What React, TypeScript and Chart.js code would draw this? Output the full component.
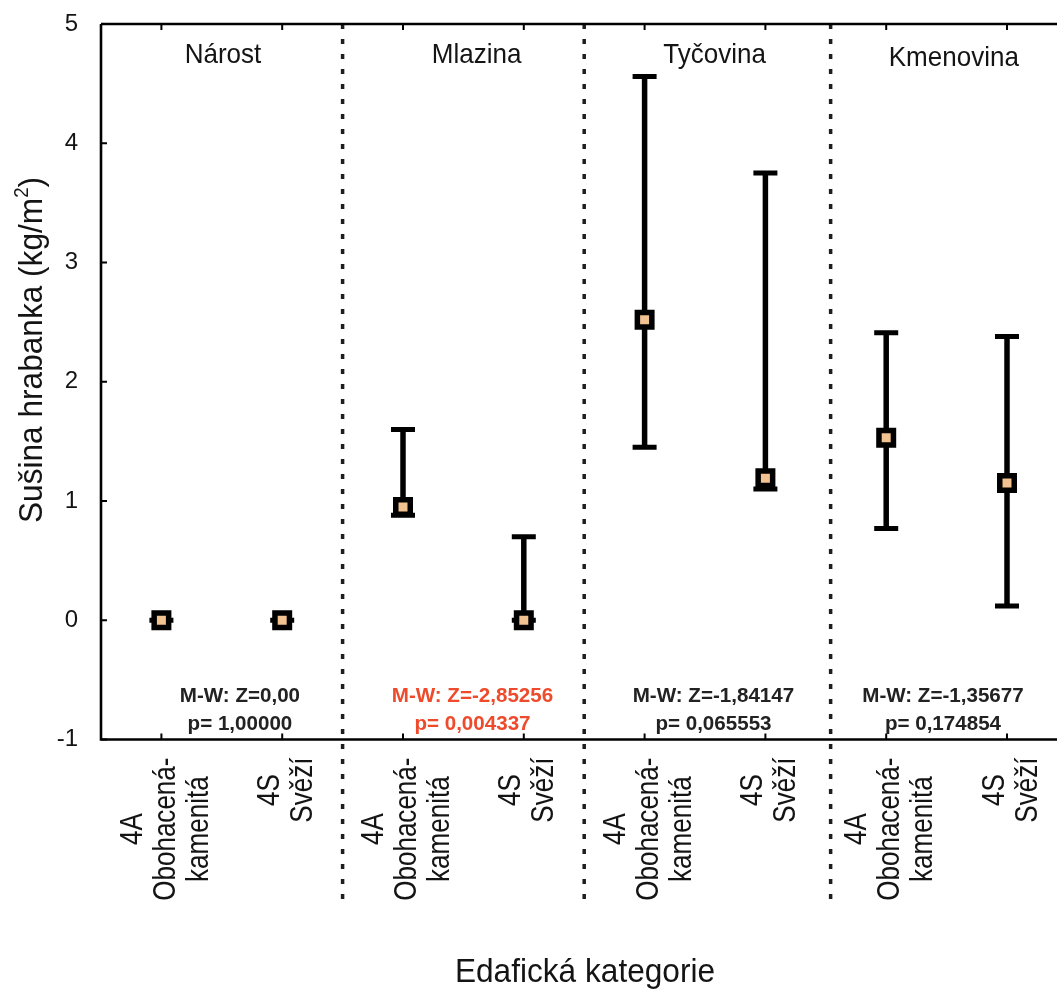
import React, { useEffect, useRef } from "react";
import { Chart, registerables } from "chart.js";

Chart.register(...registerables);

// ---------- data ----------
const categoryLines: string[][] = [
  ["4A", "Obohacená-", "kamenitá"],
  ["4S", "Svěží"],
  ["4A", "Obohacená-", "kamenitá"],
  ["4S", "Svěží"],
  ["4A", "Obohacená-", "kamenitá"],
  ["4S", "Svěží"],
  ["4A", "Obohacená-", "kamenitá"],
  ["4S", "Svěží"],
];
const categories = categoryLines.map((l) => l.join(" "));
const means = [0, 0, 0.95, 0, 2.52, 1.19, 1.53, 1.15];
const lows = [0, 0, 0.88, 0, 1.45, 1.1, 0.77, 0.12];
const highs = [0, 0, 1.6, 0.7, 4.56, 3.75, 2.41, 2.38];

const yMin = -1;
const yMax = 5;
const yStep = 1;

const groupTitles = ["Nárost", "Mlazina", "Tyčovina", "Kmenovina"];
const groupTitleAt = [0.51, 2.61, 4.58, 6.56];
const testZ = ["M-W: Z=0,00", "M-W: Z=-2,85256", "M-W: Z=-1,84147", "M-W: Z=-1,35677"];
const testP = ["p= 1,00000", "p= 0,004337", "p= 0,065553", "p= 0,174854"];
const testSignificant = [false, true, false, false];
const testAt = [0.65, 2.575, 4.57, 6.47];
const separatorAt = [1.5, 3.5, 5.54];

const yTitleMain = "Sušina hrabanka (kg/m";
const yTitleSup = "2";
const yTitleEnd = ")";
const xTitle = "Edafická kategorie";

// ---------- styles ----------
const FAMILY = "'Liberation Sans', Arial, sans-serif";
const INK = "#141414";
const RED = "#ee4a2c";
const FILL = "#f3c291";

function drawText(
  ctx: CanvasRenderingContext2D,
  text: string,
  x: number,
  y: number,
  font: string,
  color: string,
  sx: number,
  align: CanvasTextAlign,
  rot = 0
) {
  ctx.save();
  ctx.translate(x, y);
  if (rot) ctx.rotate(rot);
  ctx.scale(sx, 1);
  ctx.font = font;
  ctx.fillStyle = color;
  ctx.textAlign = align;
  ctx.textBaseline = "alphabetic";
  ctx.fillText(text, 0, 0);
  ctx.restore();
}

const decorPlugin = {
  id: "decor",
  beforeDatasetsDraw(chart: any) {
    const ctx: CanvasRenderingContext2D = chart.ctx;
    const xs = chart.scales.x;
    const ys = chart.scales.y;
    const area = chart.chartArea;

    // dashed separators
    ctx.save();
    ctx.strokeStyle = "#1e1e1e";
    ctx.lineWidth = 3.5;
    ctx.setLineDash([5, 10]);
    separatorAt.forEach((v) => {
      const x = xs.getPixelForValue(v);
      ctx.beginPath();
      ctx.moveTo(x, area.top);
      ctx.lineTo(x, 903);
      ctx.stroke();
    });
    ctx.restore();

    // frame (top, left, bottom)
    ctx.save();
    ctx.strokeStyle = "#000";
    ctx.lineWidth = 2.6;
    ctx.beginPath();
    ctx.moveTo(area.left, area.top);
    ctx.lineTo(1100, area.top);
    ctx.moveTo(area.left, area.top);
    ctx.lineTo(area.left, area.bottom);
    ctx.moveTo(area.left - 1.3, area.bottom);
    ctx.lineTo(1100, area.bottom);
    ctx.stroke();
    // tick marks (inside)
    ctx.lineWidth = 2;
    ctx.beginPath();
    categories.forEach((_, i) => {
      const x = xs.getPixelForValue(i);
      ctx.moveTo(x, area.top);
      ctx.lineTo(x, area.top + 6);
      ctx.moveTo(x, area.bottom);
      ctx.lineTo(x, area.bottom - 6);
    });
    for (let v = yMin; v <= yMax; v += yStep) {
      const y = ys.getPixelForValue(v);
      ctx.moveTo(area.left, y);
      ctx.lineTo(area.left + 6, y);
    }
    ctx.stroke();
    ctx.restore();

    // error bars
    ctx.save();
    ctx.strokeStyle = "#000";
    ctx.lineCap = "butt";
    means.forEach((_, i) => {
      const x = xs.getPixelForValue(i);
      const yl = ys.getPixelForValue(lows[i]);
      const yh = ys.getPixelForValue(highs[i]);
      ctx.lineWidth = 5.5;
      ctx.beginPath();
      ctx.moveTo(x, yl);
      ctx.lineTo(x, yh);
      ctx.stroke();
      ctx.lineWidth = 5;
      ctx.beginPath();
      ctx.moveTo(x - 12, yh);
      ctx.lineTo(x + 12, yh);
      ctx.moveTo(x - 12, yl);
      ctx.lineTo(x + 12, yl);
      ctx.stroke();
    });
    ctx.restore();
  },
  afterDraw(chart: any) {
    const ctx: CanvasRenderingContext2D = chart.ctx;
    const xs = chart.scales.x;
    const area = chart.chartArea;

    // group titles
    groupTitles.forEach((t, i) => {
      drawText(ctx, t, xs.getPixelForValue(groupTitleAt[i]), i === 3 ? 66 : 63, `28px ${FAMILY}`, INK, 0.93, "center");
    });

    // test results
    testZ.forEach((t, i) => {
      const x = xs.getPixelForValue(testAt[i]);
      const c = testSignificant[i] ? RED : "#222";
      drawText(ctx, t, x, 702, `bold 21px ${FAMILY}`, c, 0.98, "center");
      drawText(ctx, testP[i], x, 730, `bold 21px ${FAMILY}`, c, 0.98, "center");
    });

    // x tick labels (rotated, centred lines)
    const fs = 31;
    const sx = 0.84;
    const lh = 33;
    ctx.save();
    ctx.font = `${fs}px ${FAMILY}`;
    categoryLines.forEach((lines, i) => {
      const cx = xs.getPixelForValue(i);
      const maxW = Math.max(...lines.map((l) => ctx.measureText(l).width)) * sx;
      const cy = area.bottom + 18 + maxW / 2;
      const n = lines.length;
      lines.forEach((l, k) => {
        const bx = cx + (k - (n - 1) / 2) * lh + fs * 0.36 + 2;
        drawText(ctx, l, bx, cy, `${fs}px ${FAMILY}`, INK, sx, "center", -Math.PI / 2);
      });
    });
    ctx.restore();

    // y title with superscript
    ctx.save();
    const tfs = 34;
    const tsx = 0.93;
    ctx.font = `${tfs}px ${FAMILY}`;
    const w1 = ctx.measureText(yTitleMain).width;
    const w3 = ctx.measureText(yTitleEnd).width;
    ctx.font = `20px ${FAMILY}`;
    const w2 = ctx.measureText(yTitleSup).width;
    const total = w1 + w2 + w3;
    ctx.translate(42, 350);
    ctx.rotate(-Math.PI / 2);
    ctx.scale(tsx, 1);
    ctx.fillStyle = INK;
    ctx.textAlign = "left";
    ctx.textBaseline = "alphabetic";
    let px = -total / 2;
    ctx.font = `${tfs}px ${FAMILY}`;
    ctx.fillText(yTitleMain, px, 0);
    px += w1;
    ctx.font = `20px ${FAMILY}`;
    ctx.fillText(yTitleSup, px, -14);
    px += w2;
    ctx.font = `${tfs}px ${FAMILY}`;
    ctx.fillText(yTitleEnd, px, 0);
    ctx.restore();

    // x title
    drawText(ctx, xTitle, 585, 982, `34px ${FAMILY}`, INK, 0.93, "center");
  },
};

export default function App() {
  const ref = useRef<HTMLCanvasElement | null>(null);

  useEffect(() => {
    if (!ref.current) return;
    const chart = new Chart(ref.current, {
      type: "line",
      data: {
        labels: categories,
        datasets: [
          {
            data: means,
            showLine: false,
            pointStyle: "rect",
            pointRadius: 10.25,
            pointHoverRadius: 10.25,
            pointBorderWidth: 5.5,
            pointBorderColor: "#000",
            pointBackgroundColor: FILL,
            clip: false,
          },
        ],
      },
      options: {
        animation: false,
        responsive: false,
        devicePixelRatio: 1,
        events: [],
        layout: { autoPadding: false, padding: { top: 24, right: 7.6, left: 0, bottom: 0 } },
        plugins: { legend: { display: false }, tooltip: { enabled: false } },
        scales: {
          x: {
            type: "category",
            offset: true,
            grid: { display: false },
            border: { display: false },
            ticks: { display: false },
            afterFit: (s: any) => {
              s.height = 250.5;
              s.paddingLeft = 0;
              s.paddingRight = 0;
              s.paddingTop = 0;
              s.paddingBottom = 0;
            },
          },
          y: {
            type: "linear",
            min: yMin,
            max: yMax,
            grid: { display: false },
            border: { display: false },
            ticks: {
              stepSize: yStep,
              padding: 15,
              color: INK,
              font: { family: FAMILY, size: 24 },
            },
            afterFit: (s: any) => {
              s.width = 101;
              s.paddingLeft = 0;
              s.paddingRight = 0;
              s.paddingTop = 0;
              s.paddingBottom = 0;
            },
          },
        },
      },
      plugins: [decorPlugin],
    });
    return () => chart.destroy();
  }, []);

  return (
    <div
      style={{
        position: "absolute",
        left: 0,
        top: 0,
        width: 1057,
        height: 990,
        overflow: "hidden",
        background: "#fff",
      }}
    >
      <canvas ref={ref} width={1075} height={990} style={{ display: "block" }} />
    </div>
  );
}
